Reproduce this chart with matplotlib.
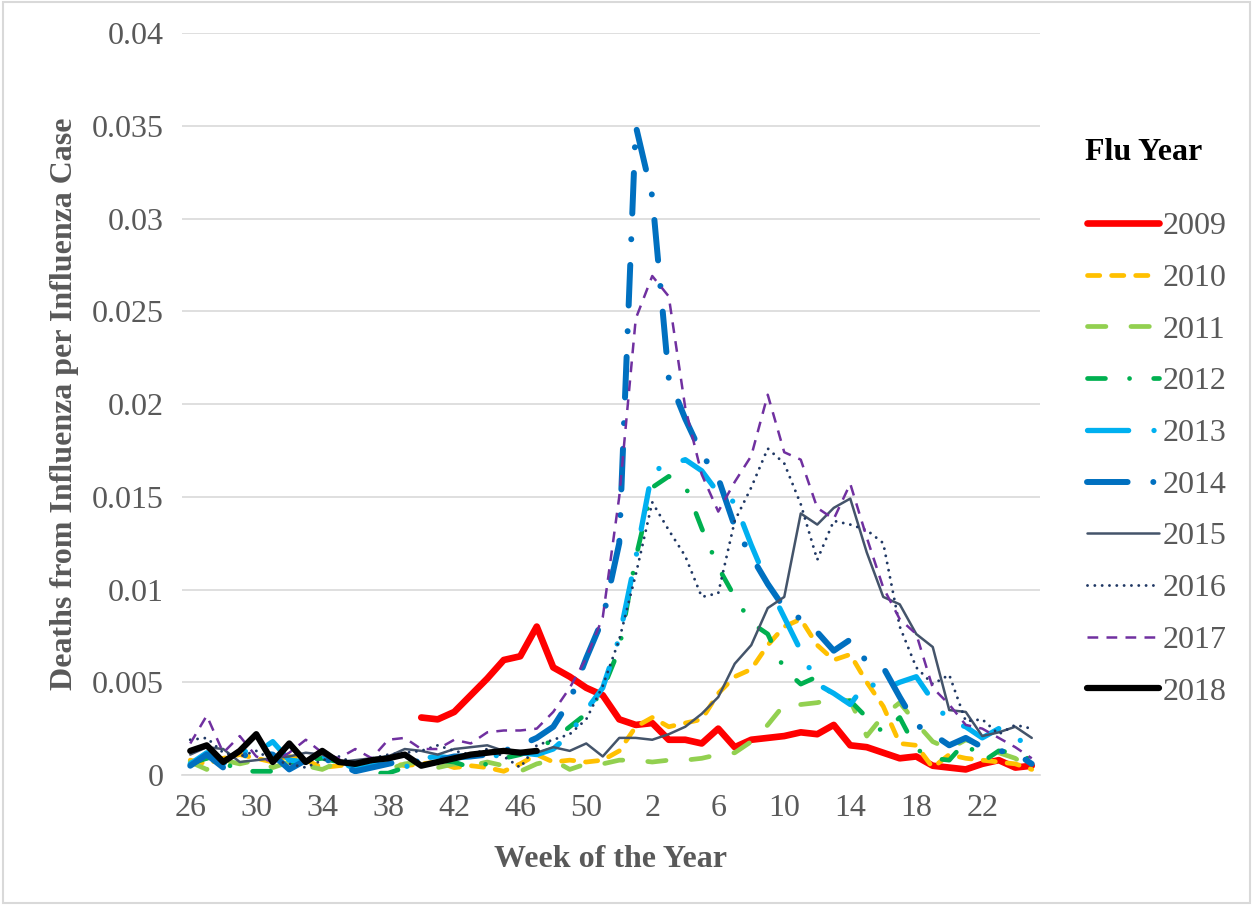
import numpy as np
import matplotlib
matplotlib.use("Agg")
import matplotlib.pyplot as plt
from matplotlib.patches import Rectangle
from matplotlib.ticker import FuncFormatter

nan = np.nan

# week of the year, flu season runs from week 26 to week 25
weeks = list(range(26, 53)) + list(range(1, 26))
tick_every = 4

y2009 = [nan] * 14 + [
    .0031, .0030, .0034, .0043, .0052, .0062, .0064, .0080, .0058, .0053, .0047, .0043, .0030,
    .0027, .0028, .0019, .0019, .0017, .0025, .0015, .0019, .0020, .0021, .0023, .0022, .0027,
    .0016, .0015, .0012, .0009, .0010, .0005, .0004, .0003, .0006, .0008, .0004, .0005]
y2010 = [
    .0008, .0006, .0009, .0011, .0009, .0007, .0010, .0008, .0004, .0005, .0006, .0008, .0007,
    .0005, .0006, .0007, .0004, .0005, .0004, .0002, .0006, .0011, .0007, .0008, .0007, .0008, .0013,
    .0026, .0031, .0026, .0028, .0030, .0044, .0053, .0057, .0070, .0080, .0084, .0070, .0062,
    .0065, .0050, .0037, .0017, .0016, .0004, .0011, .0009, .0008, .0007, .0006, .0003]
y2011 = [
    .0007, .0003, .0008, .0006, .0008, .0004, .0007, .0005, .0003, .0007, .0006, .0004, .0003,
    .0006, .0007, .0004, .0006, .0005, .0007, .0005, .0002, .0006, .0008, .0003, .0006, .0006, .0008,
    .0008, .0007, .0008, .0008, .0009, .0011, .0012, .0018, .0027, .0038, .0038, .0039, .0041,
    .0040, .0021, .0032, .0039, .0028, .0018, .0014, .0019, .0016, .0012, .0009, .0003]
y2012 = [
    .0006, .0009, .0007, .0002, .0002, .0002, .0006, .0008, .0009, .0007, .0004, .0001, .0001,
    .0004, .0005, .0008, .0007, .0004, .0006, .0009, .0011, .0014, .0019, .0026, .0033, .0046, .0068,
    .0117, .0155, .0161, .0156, .0133, .0112, .0096, .0082, .0076, .0057, .0049, .0053, .0042,
    .0040, .0031, .0023, .0031, .0014, .0009, .0008, .0018, .0007, .0013, .0012, .0008]
y2013 = [
    .0006, .0012, .0006, .0013, .0012, .0018, .0008, .0007, .0010, .0008, .0003, .0005, .0010,
    .0004, .0009, .0010, .0009, .0010, .0011, .0010, .0012, .0011, .0014, .0022, .0035, .0047, .0074,
    .0117, .0164, .0167, .0170, .0164, .0152, .0147, .0124, .0103, .0085, .0067, .0049, .0044,
    .0038, .0050, .0046, .0050, .0053, .0040, .0029, .0026, .0020, .0025, .0022, .0011]
y2014 = [
    .0005, .0011, .0004, .0010, .0012, .0011, .0003, .0008, .0009, .0006, .0002, .0004, .0006,
    .0008, .0007, .0008, .0010, .0010, .0011, .0013, .0016, .0020, .0026, .0040, .0063, .0084, .0125,
    .0350, .0312, .0214, .0192, .0173, .0160, .0134, .0118, .0103, .0090, .0084, .0077, .0067,
    .0073, .0061, .0058, .0042, .0027, .0022, .0016, .0020, .0015, .0013, .0012, .0006]
y2015 = [
    .0011, .0015, .0014, .0007, .0008, .0009, .0010, .0012, .0011, .0007, .0008, .0009, .0010,
    .0014, .0013, .0011, .0014, .0015, .0016, .0013, .0013, .0012, .0015, .0013, .0017, .0010, .0020,
    .0020, .0019, .0022, .0026, .0033, .0042, .0060, .0070, .0090, .0096, .0141, .0135, .0144,
    .0149, .0120, .0096, .0092, .0076, .0069, .0035, .0034, .0021, .0023, .0026, .0020]
y2016 = [
    .0019, .0020, .0012, .0010, .0013, .0008, .0006, .0004, .0008, .0010, .0006, .0009, .0011,
    .0012, .0013, .0016, .0013, .0011, .0014, .0010, .0004, .0016, .0019, .0022, .0030, .0048, .0073,
    .0108, .0147, .0132, .0118, .0096, .0098, .0137, .0155, .0176, .0168, .0146, .0116, .0137,
    .0135, .0132, .0125, .0080, .0058, .0049, .0054, .0029, .0030, .0022, .0027, .0025]
y2017 = [
    .0017, .0032, .0012, .0021, .0010, .0007, .0012, .0019, .0012, .0009, .0014, .0009, .0019,
    .0020, .0014, .0014, .0019, .0017, .0023, .0024, .0024, .0025, .0034, .0047, .0063, .0085, .0150,
    .0246, .0269, .0258, .0198, .0162, .0142, .0158, .0172, .0205, .0174, .0170, .0144, .0138,
    .0157, .0128, .0101, .0084, .0076, .0047, .0038, .0027, .0025, .0020, .0015, .0009]
y2018 = [
    .0013, .0016, .0007, .0013, .0022, .0007, .0017, .0007, .0013, .0007, .0006, .0008, .0009,
    .0011, .0005, .0007, .0009, .0011, .0012, .0013, .0012, .0013] + [nan] * 30

series = [
    ("2009", y2009, "#FF0000", 4.8, "-"),
    ("2010", y2010, "#FFC000", 3.4, (0, (2.6, 2.5))),
    ("2011", y2011, "#92D050", 3.4, (0, (3.9, 5.3))),
    ("2012", y2012, "#00B050", 3.4, (0, (3.8, 5.1, 0.01, 5.1))),
    ("2013", y2013, "#00B0F0", 3.8, (0, (7.8, 4.8, 0.01, 4.8))),
    ("2014", y2014, "#0070C0", 4.3, (0, (6.8, 4.3, 0.01, 4.3))),
    ("2015", y2015, "#44546A", 1.8, "-"),
    ("2016", y2016, "#203864", 2.1, (0, (0.01, 2.5))),
    ("2017", y2017, "#7030A0", 1.8, (0, (4.3, 3.3))),
    ("2018", y2018, "#000000", 4.5, "-"),
]

FONT = "Liberation Serif"
GREY = "#595959"
GRID = "#D9D9D9"
FS = 23

fig = plt.figure(figsize=(12.53, 9.05), dpi=100)
ax = fig.add_axes([182 / 1253, 1 - 775 / 905, (1040 - 182) / 1253, (775 - 33) / 905])

x = np.arange(len(weeks))
for label, vals, color, lw, ls in series:
    cap = "butt" if label == "2017" else "round"
    ax.plot(x, vals, color=color, lw=lw, linestyle=ls, label=label,
            dash_capstyle=cap, solid_capstyle="round",
            solid_joinstyle="round", dash_joinstyle="round")

ax.set_xlim(-0.5, len(weeks) - 0.5)
ax.set_ylim(0, 0.04)
ax.set_yticks(np.arange(0, 0.0401, 0.005))
ax.yaxis.set_major_formatter(FuncFormatter(lambda v, p: "%g" % round(v, 4)))
ax.set_xticks(x[::tick_every])
ax.set_xticklabels([str(w) for w in weeks[::tick_every]])

for s in ["top", "right", "left"]:
    ax.spines[s].set_visible(False)
ax.spines["bottom"].set_color(GRID)
ax.spines["bottom"].set_linewidth(1.2)
ax.grid(axis="y", color=GRID, lw=1.2)
ax.set_axisbelow(True)
ax.tick_params(axis="both", length=0, labelsize=FS, labelcolor=GREY)
ax.tick_params(axis="y", pad=13)
ax.tick_params(axis="x", pad=13.5)
for t in ax.get_xticklabels() + ax.get_yticklabels():
    t.set_fontfamily(FONT)

ax.set_xlabel("Week of the Year", fontsize=FS, fontweight="bold", color=GREY,
              fontfamily=FONT, labelpad=16)
ax.set_ylabel("Deaths from Influenza per Influenza Case", fontsize=FS,
              fontweight="bold", color=GREY, fontfamily=FONT, labelpad=9)

# legend title drawn on its own so the gap under it matches the original
fig.text(1085 / 1253, 1 - 152 / 905, "Flu Year", fontsize=FS, fontweight="bold",
         fontfamily=FONT, color="black", ha="left", va="center")
leg = fig.legend(loc="upper left", bbox_to_anchor=(1074 / 1253, 1 - 199 / 905),
                 frameon=False, prop={"family": FONT, "size": FS},
                 handlelength=2.25, handletextpad=0.12, labelspacing=0.7,
                 borderaxespad=0)
for t in leg.get_texts():
    t.set_color(GREY)

fig.patches.append(Rectangle((0.002, 0.002), 0.996, 0.996, transform=fig.transFigure,
                             fill=False, edgecolor=GRID, lw=1.5))

fig.savefig("out.png", dpi=100)
